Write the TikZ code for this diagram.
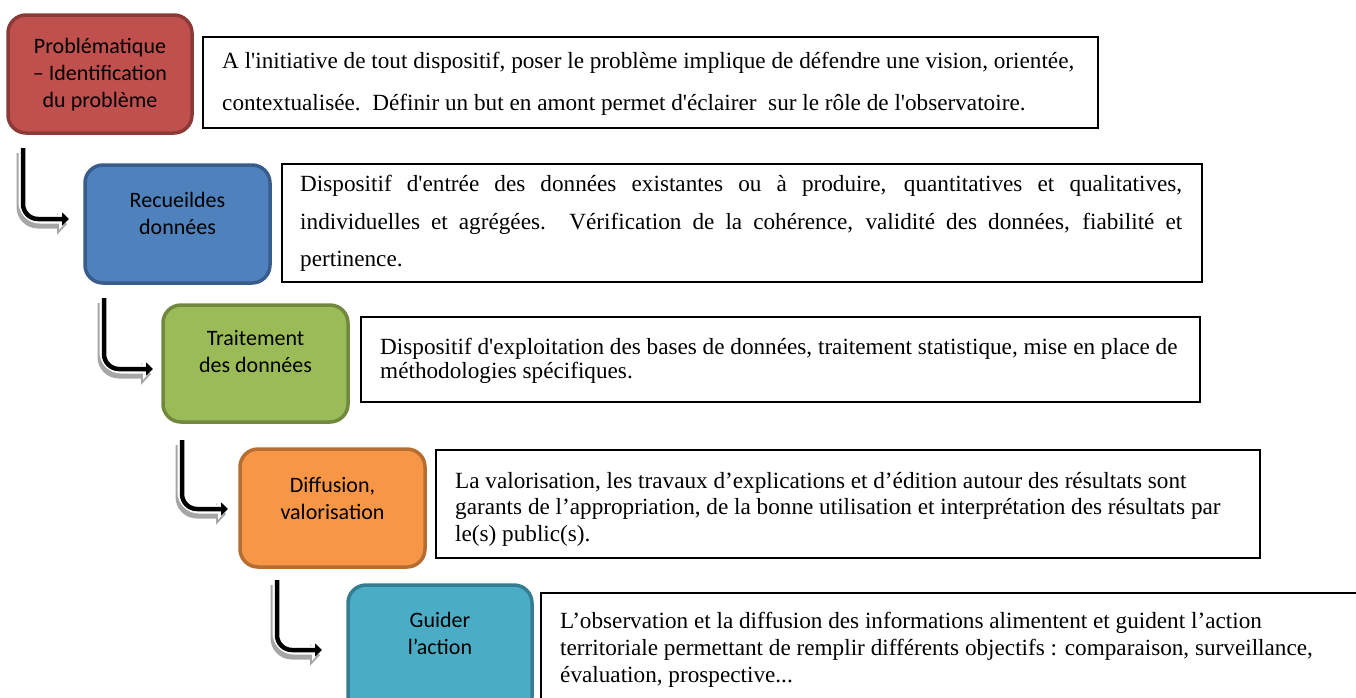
\documentclass[tikz,border=0pt]{standalone}
\usepackage{fontspec}
\setmainfont{Liberation Serif}[Ligatures=TeXOff]
\newfontfamily\labfont{Carlito}
\usetikzlibrary{arrows.meta}
\definecolor{redF}{HTML}{C0504D}\definecolor{redD}{HTML}{8C3A38}
\definecolor{bluF}{HTML}{4F81BD}\definecolor{bluD}{HTML}{385D8A}
\definecolor{grnF}{HTML}{9BBB59}\definecolor{grnD}{HTML}{71893F}
\definecolor{orgF}{HTML}{F79646}\definecolor{orgD}{HTML}{B66D31}
\definecolor{tealF}{HTML}{4BACC6}\definecolor{tealD}{HTML}{357D91}
\begin{document}
\begin{tikzpicture}[x=1pt,y=-1pt,
  stage/.style 2 args={draw=#2, fill=#1, line width=3.5pt, rounded corners=18pt, inner sep=0pt},
  desc/.style={draw=black, line width=1.6pt, inner sep=0pt},
  lab/.style={anchor=north, align=center, inner sep=0pt, font=\labfont\fontsize{22}{27}\selectfont},
  txt/.style={anchor=north west, inner sep=0pt, align=left, font=\fontsize{23.2}{#1}\selectfont},
  ashadow/.style={line width=9pt, draw=black!35, rounded corners=17pt, -{Triangle[length=10pt,width=21pt]}},
  awhite/.style={line width=9pt, draw=white, rounded corners=17pt, -{Triangle[length=10pt,width=21pt]}},
  ablack/.style={line width=4.5pt, draw=black, rounded corners=15pt, -{Triangle[length=7pt,width=13pt]}}
]
\useasboundingbox (0,0) rectangle (1356,697);
\clip (0,0) rectangle (1356,697);
\fill[white] (0,0) rectangle (1356,697);

% colored stage boxes
\node[stage={redF}{redD}, minimum width=184pt, minimum height=118pt] (s1) at (100,74) {};
\node[stage={bluF}{bluD}, minimum width=185pt, minimum height=118pt] (s2) at (177.5,224) {};
\node[stage={grnF}{grnD}, minimum width=185pt, minimum height=117pt] (s3) at (255.5,363.5) {};
\node[stage={orgF}{orgD}, minimum width=185pt, minimum height=118pt] (s4) at (332.5,508) {};
\node[stage={tealF}{tealD}, minimum width=184pt, minimum height=130pt] (s5) at (440,650) {};

\node[lab] (l1) at (100,38) {Problématique\\– Identification\\du problème};
\node[lab] (l2) at (177.5,192) {Recueildes\\données};
\node[lab] (l3) at (255.5,330) {Traitement\\des données};
\node[lab] (l4) at (332.5,477) {Diffusion,\\valorisation};
\node[lab] (l5) at (440,612) {Guider\\l’action};

% description boxes
\node[desc, minimum width=895pt, minimum height=91pt] (d1) at (650.5,82.5) {};
\node[desc, minimum width=920pt, minimum height=118pt] (d2) at (742,223) {};
\node[desc, minimum width=839pt, minimum height=85pt] (d3) at (780.5,359.5) {};
\node[desc, minimum width=824pt, minimum height=108pt] (d4) at (848,504) {};
\node[desc, minimum width=840pt, minimum height=125pt] (d5) at (961,655.5) {};

\node[txt=41.5] (t1) at (222,52) {A l'initiative de tout dispositif, poser le problème implique de défendre une vision, orientée,\\contextualisée.\ \ Définir un but en amont permet d'éclairer\ \ sur le rôle de l'observatoire.};
\node[txt=37.5, text width=882pt, align=justify] (t2) at (300,175) {Dispositif d'entrée des données existantes ou à produire, quantitatives et qualitatives,\linebreak individuelles et agrégées. Vérification de la cohérence, validité des données, fiabilité et\linebreak pertinence.};
\node[txt=24] (t3) at (380,338) {Dispositif d'exploitation des bases de données, traitement statistique, mise en place de\\méthodologies spécifiques.};
\node[txt=26.5] (t4) at (455,472) {La valorisation, les travaux d’explications et d’édition autour des résultats sont\\garants de l’appropriation, de la bonne utilisation et interprétation des résultats par\\le(s) public(s).};
\node[txt=27] (t5) at (560,612) {L’observation et la diffusion des informations alimentent et guident l’action\\territoriale permettant de remplir différents objectifs : comparaison, surveillance,\\évaluation, prospective...};

% bent arrows
\coordinate (a1s) at (23,148);  \coordinate (a1e) at (69,219);
\coordinate (a2s) at (104,298); \coordinate (a2e) at (153,369);
\coordinate (a3s) at (182,440); \coordinate (a3e) at (228,509);
\coordinate (a4s) at (277,580); \coordinate (a4e) at (322,650);
\foreach \i in {1,2,3,4}{
  \draw[ashadow] ([shift={(-2,5)}]a\i s) |- ([shift={(-2,5)}]a\i e);
  \draw[awhite] (a\i s) |- (a\i e);
  \draw[ablack] (a\i s) |- (a\i e);
}
\end{tikzpicture}
\end{document}
